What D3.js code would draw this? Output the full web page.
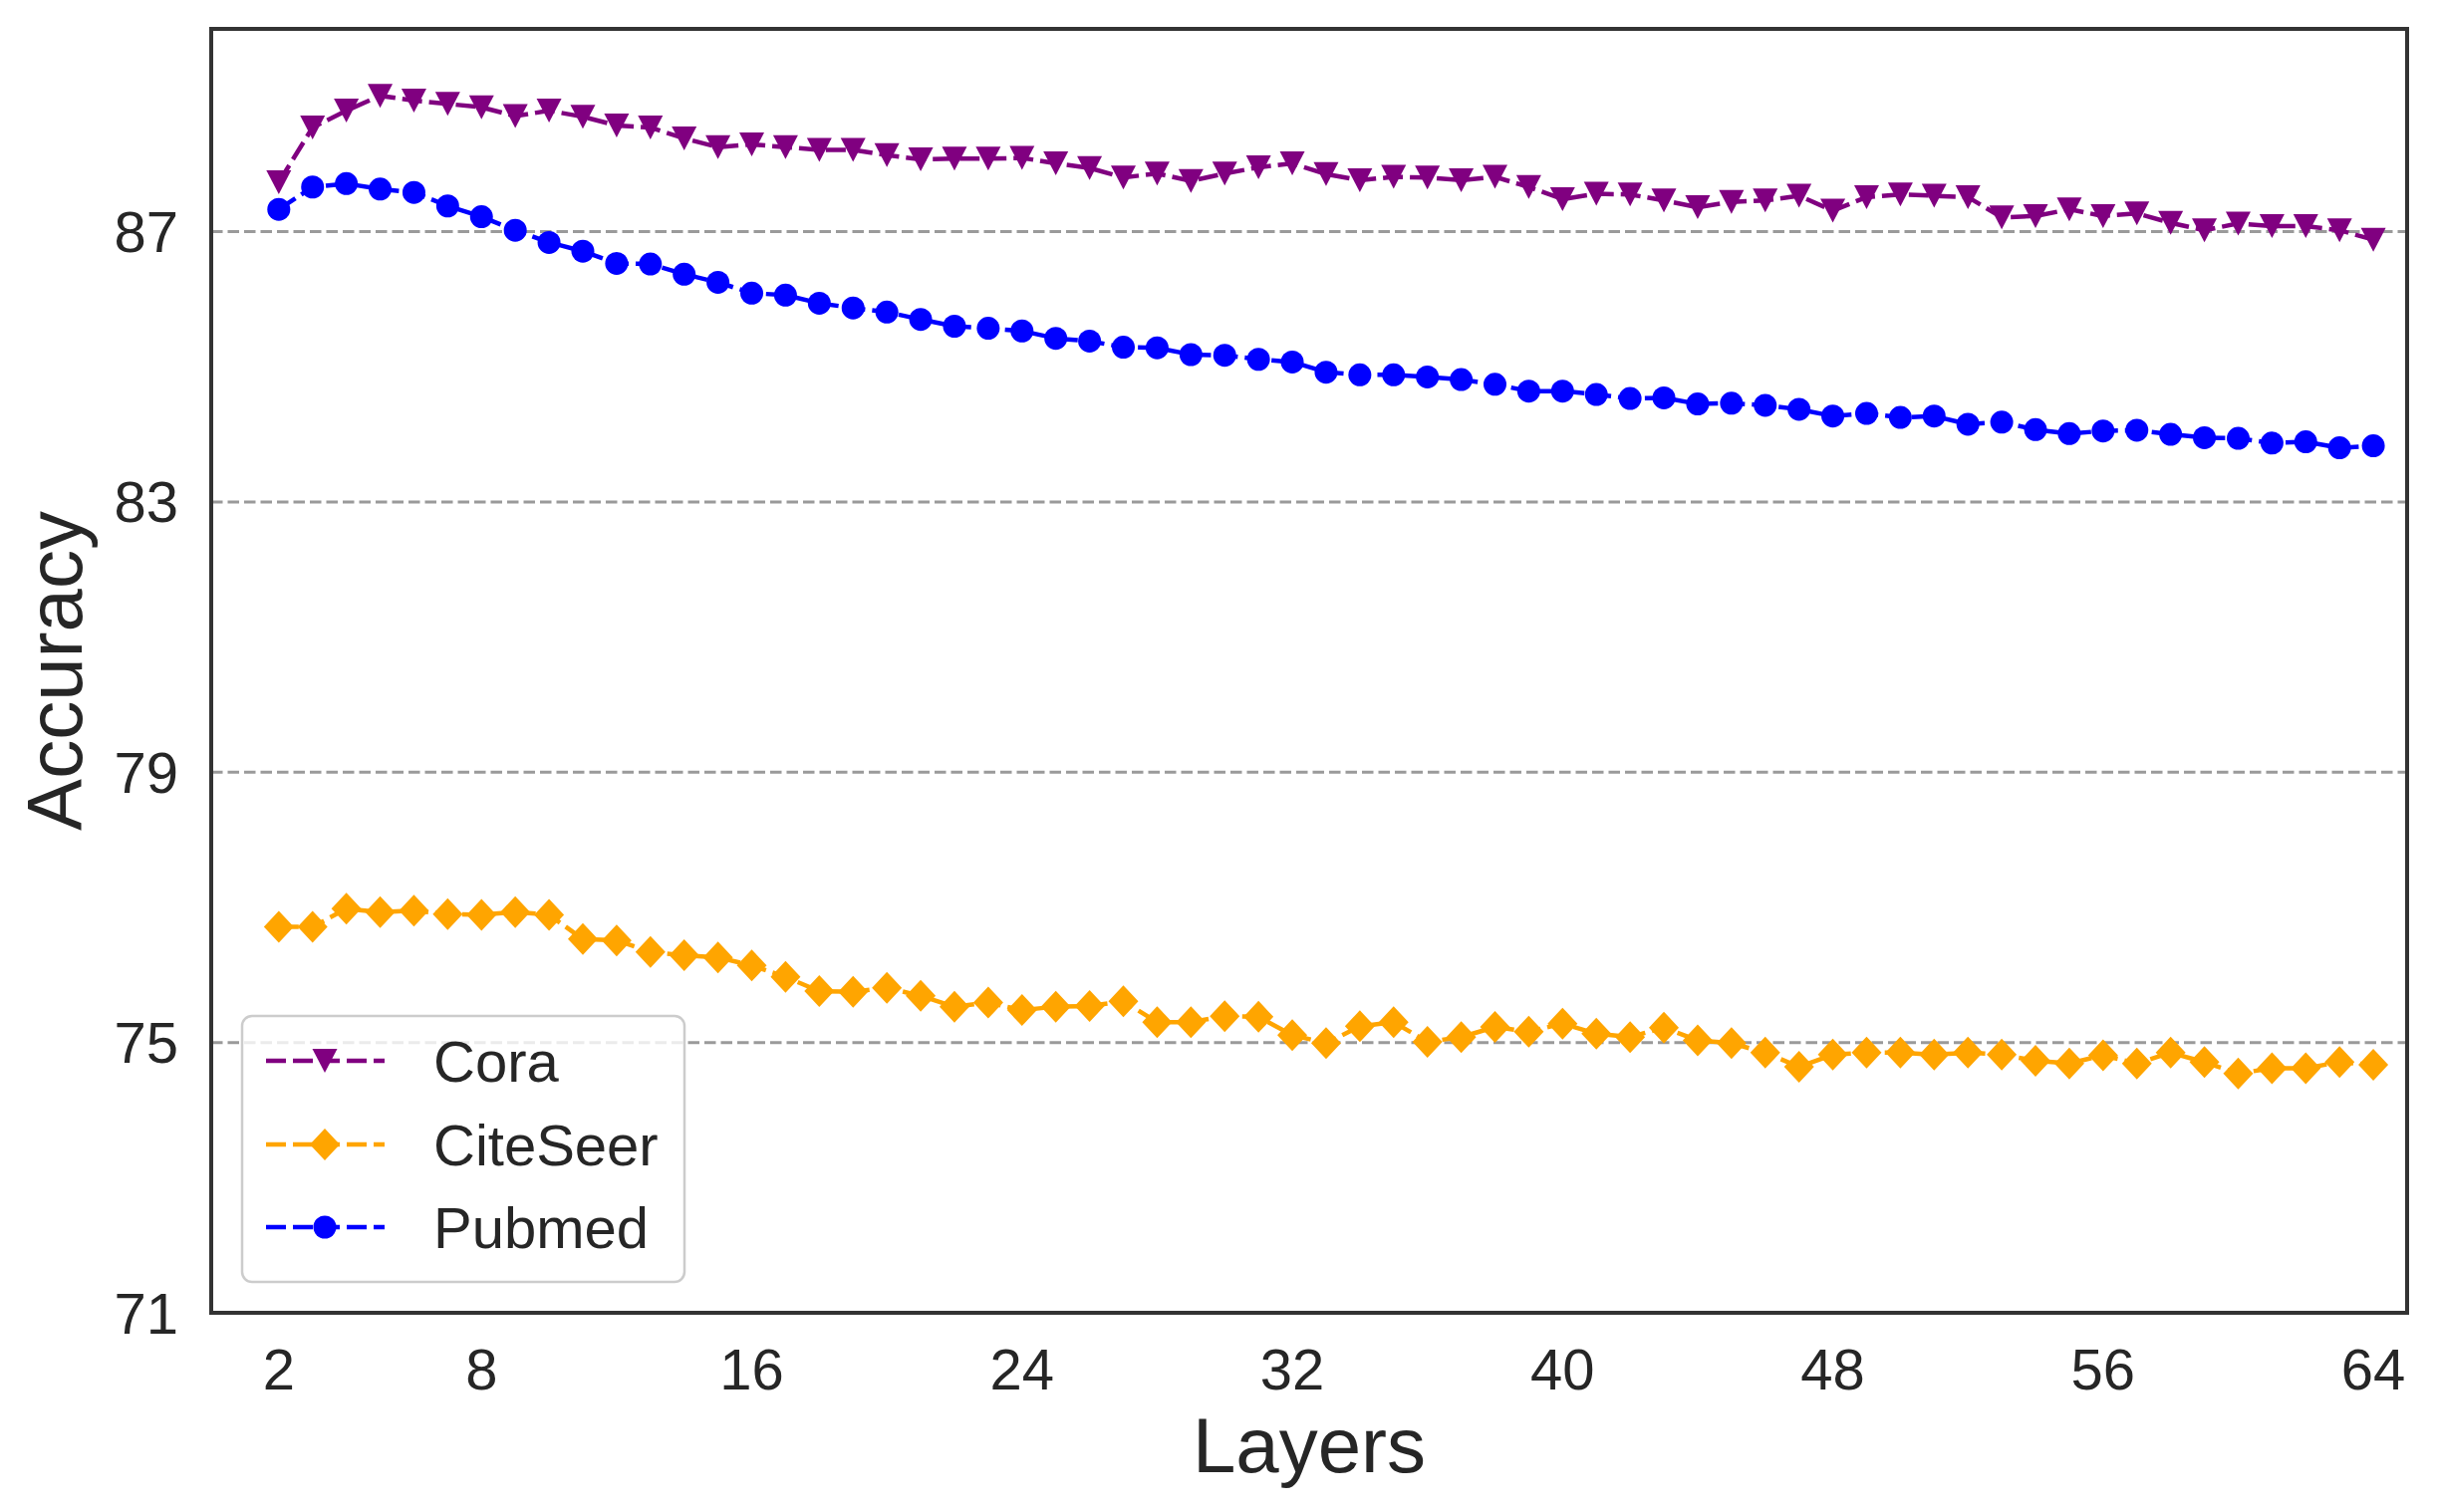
<!DOCTYPE html>
<html>
<head>
<meta charset="utf-8">
<script src="https://cdn.jsdelivr.net/npm/d3@7"></script>
<style>
  html, body { margin: 0; padding: 0; background: #fff; }
  svg { display: block; }
  text { font-family: "Liberation Sans", Arial, Helvetica, sans-serif; fill: #262626; }
</style>
</head>
<body>
<svg id="chart" width="2446" height="1518"></svg>
<script>
const layers = [2,3,4,5,6,7,8,9,10,11,12,13,14,15,16,17,18,19,20,21,22,23,24,25,26,27,28,29,30,31,32,33,34,35,36,37,38,39,40,41,42,43,44,45,46,47,48,49,50,51,52,53,54,55,56,57,58,59,60,61,62,63,64];

const cora = [87.73,88.54,88.79,89.01,88.94,88.89,88.84,88.71,88.79,88.70,88.57,88.54,88.38,88.25,88.29,88.25,88.21,88.21,88.13,88.07,88.08,88.08,88.09,88.01,87.94,87.80,87.86,87.75,87.86,87.95,88.01,87.85,87.76,87.81,87.80,87.76,87.81,87.66,87.48,87.56,87.55,87.46,87.36,87.44,87.46,87.53,87.31,87.51,87.55,87.53,87.51,87.21,87.23,87.33,87.23,87.27,87.13,87.02,87.12,87.08,87.08,87.02,86.88];

const citeseer = [76.71,76.71,76.98,76.93,76.95,76.90,76.89,76.93,76.89,76.53,76.51,76.34,76.29,76.26,76.14,75.97,75.76,75.75,75.81,75.69,75.53,75.59,75.48,75.53,75.54,75.61,75.30,75.30,75.39,75.38,75.11,74.99,75.24,75.30,75.01,75.08,75.23,75.16,75.28,75.13,75.08,75.22,75.03,74.99,74.85,74.64,74.82,74.85,74.85,74.82,74.85,74.82,74.73,74.69,74.81,74.69,74.85,74.71,74.54,74.62,74.62,74.71,74.67];

const pubmed = [87.33,87.66,87.71,87.63,87.58,87.38,87.22,87.02,86.84,86.71,86.53,86.52,86.37,86.25,86.09,86.06,85.94,85.87,85.81,85.70,85.60,85.57,85.53,85.42,85.38,85.29,85.28,85.18,85.17,85.11,85.07,84.92,84.88,84.88,84.85,84.81,84.74,84.64,84.64,84.59,84.53,84.54,84.45,84.46,84.43,84.37,84.27,84.31,84.25,84.27,84.15,84.18,84.07,84.01,84.05,84.06,84.00,83.95,83.94,83.87,83.89,83.80,83.83];

const seriesNames = ["Cora", "CiteSeer", "Pubmed"];
const seriesColors = ["#800080", "#FFA500", "#0000FF"];
const seriesMarkers = ["triangleDown", "diamond", "circle"];
const seriesValues = [cora, citeseer, pubmed];

const xTicks = [2, 8, 16, 24, 32, 40, 48, 56, 64];
const yTicks = [71, 75, 79, 83, 87];
const xLabel = "Layers";
const yLabel = "Accuracy";

const L = 212, R = 2416, T = 29, B = 1318;
const svg = d3.select("#chart");
const x = d3.scaleLinear().domain([0, 65]).range([L, R]);
const y = d3.scaleLinear().domain([71, 90]).range([B, T]);

function markerPath(type, cx, cy) {
  const p = d3.path();
  if (type === "triangleDown") {
    const hw = 12.5, hh = 12;
    p.moveTo(cx - hw, cy - hh); p.lineTo(cx + hw, cy - hh); p.lineTo(cx, cy + hh); p.closePath();
  } else if (type === "diamond") {
    const hw = 15, hh = 16;
    p.moveTo(cx, cy - hh); p.lineTo(cx + hw, cy); p.lineTo(cx, cy + hh); p.lineTo(cx - hw, cy); p.closePath();
  } else {
    p.moveTo(cx + 11.5, cy); p.arc(cx, cy, 11.5, 0, 2 * Math.PI);
  }
  return p.toString();
}

// grid lines (horizontal)
svg.append("g").selectAll("line").data(yTicks.filter(v => v > 71)).join("line")
  .attr("x1", L).attr("x2", R)
  .attr("y1", d => y(d)).attr("y2", d => y(d))
  .attr("stroke", "#9a9a9a").attr("stroke-width", 3)
  .attr("stroke-dasharray", "11.5,5");

// series
const line = d3.line().x((d, i) => x(layers[i])).y(d => y(d));
seriesValues.forEach((vals, si) => {
  const g = svg.append("g");
  g.append("path").datum(vals).attr("d", line)
    .attr("fill", "none").attr("stroke", seriesColors[si])
    .attr("stroke-width", 4.5).attr("stroke-dasharray", "20,7");
  g.selectAll("path.m").data(vals).join("path").attr("class", "m")
    .attr("d", (d, i) => markerPath(seriesMarkers[si], x(layers[i]), y(d)))
    .attr("fill", seriesColors[si]);
});

// frame
svg.append("rect").attr("x", L).attr("y", T).attr("width", R - L).attr("height", B - T)
  .attr("fill", "none").attr("stroke", "#333").attr("stroke-width", 4);

// y ticks
svg.append("g").selectAll("text").data(yTicks).join("text")
  .attr("x", 179).attr("y", d => y(d)).attr("text-anchor", "end")
  .attr("dominant-baseline", "central").attr("font-size", 58).text(d => d);

// x ticks
svg.append("g").selectAll("text").data(xTicks).join("text")
  .attr("x", d => x(d)).attr("y", 1395).attr("text-anchor", "middle")
  .attr("font-size", 58).text(d => d);

// axis labels
svg.append("text").attr("x", (L + R) / 2).attr("y", 1478).attr("text-anchor", "middle")
  .attr("font-size", 78).text(xLabel);
svg.append("text").attr("transform", `translate(82,${(T + B) / 2}) rotate(-90)`)
  .attr("text-anchor", "middle").attr("font-size", 78).text(yLabel);

// legend
const lg = svg.append("g");
lg.append("rect").attr("x", 243).attr("y", 1020).attr("width", 444).attr("height", 267)
  .attr("rx", 10).attr("ry", 10).attr("fill", "#fff").attr("fill-opacity", 0.8)
  .attr("stroke", "#cccccc").attr("stroke-width", 2.5);
const rowY = [1065, 1149, 1232];
seriesNames.forEach((name, si) => {
  lg.append("line").attr("x1", 267).attr("x2", 386).attr("y1", rowY[si]).attr("y2", rowY[si])
    .attr("stroke", seriesColors[si]).attr("stroke-width", 4.5).attr("stroke-dasharray", "20,7");
  lg.append("path").attr("d", markerPath(seriesMarkers[si], 326, rowY[si])).attr("fill", seriesColors[si]);
  lg.append("text").attr("x", 435).attr("y", rowY[si]).attr("dominant-baseline", "central")
    .attr("font-size", 58).text(name);
});
</script>
</body>
</html>
